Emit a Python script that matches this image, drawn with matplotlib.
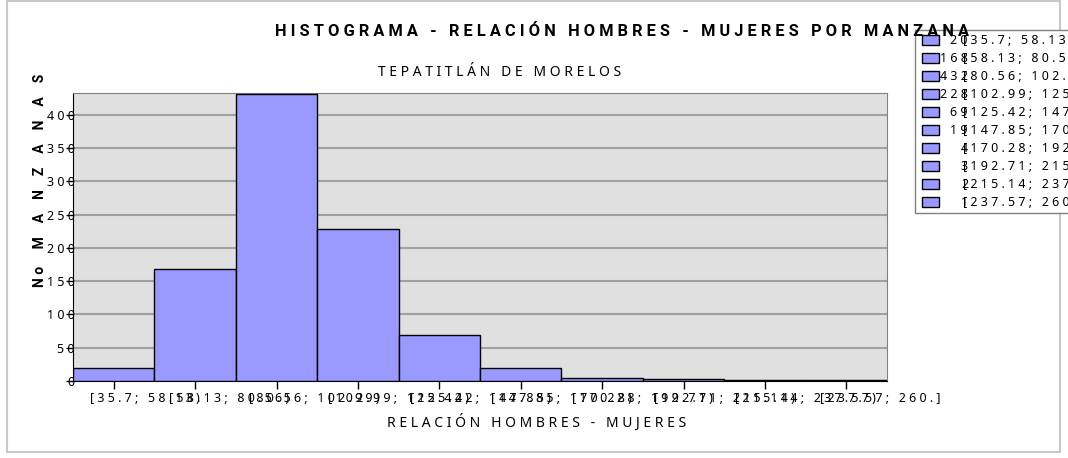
import matplotlib.pyplot as plt
from matplotlib.patches import Rectangle
from matplotlib.transforms import ScaledTranslation

intervals = ['[35.7; 58.13)', '[58.13; 80.56)', '[80.56; 102.99)', '[102.99; 125.42)',
             '[125.42; 147.85)', '[147.85; 170.28)', '[170.28; 192.71)', '[192.71; 215.14)',
             '[215.14; 237.57)', '[237.57; 260.]']
counts = [20, 168, 432, 228, 69, 19, 4, 3, 2, 1]
yticks = [0, 50, 100, 150, 200, 250, 300, 350, 400]

FONT = ['Liberation Sans Narrow', 'Arial Narrow', 'Noto Sans Condensed', 'Noto Sans', 'DejaVu Sans']
FONT_B = ['Roboto', 'Liberation Sans', 'DejaVu Sans']
ST = 'condensed'
BAR = '#9999ff'


def sp(s, gap=' '):
    # texto con espaciado entre letras como el original
    return gap.join(s)


fig = plt.figure(figsize=(10.68, 4.58), dpi=100)
fig.patch.set_facecolor('white')

# marco exterior
fig.patches.append(Rectangle((7 / 1068, 6 / 458), 1053 / 1068, 451 / 458, transform=fig.transFigure,
                             fill=False, edgecolor='#c8c8c8', linewidth=1.5))

ax = fig.add_axes([73 / 1068, 77 / 458, 814 / 1068, 288 / 458])
ax.set_facecolor('#e0e0e0')
x = list(range(len(counts)))
ax.bar(x, counts, width=1.0, color=BAR, edgecolor='black', linewidth=1, zorder=3)
ax.set_xlim(-0.5, len(counts) - 0.5)
ax.set_ylim(0, 433)
ax.set_yticks(yticks)
ax.set_yticklabels([sp(str(v)) for v in yticks], family=FONT, stretch=ST, fontsize=9)
ax.set_xticks(x)
ax.set_xticklabels([sp(s) for s in intervals], family=FONT, stretch=ST, fontsize=9)
ax.yaxis.grid(True, color='#a0a0a0', linewidth=1.5, zorder=0)
ax.set_axisbelow(True)
ax.tick_params(axis='y', length=5, width=1, pad=-6, color='black')
ax.tick_params(axis='x', length=6, width=1, pad=2, color='black')
for lab, s in zip(ax.get_xticklabels(), intervals):
    lab.set_horizontalalignment('left')
    lab.set_transform(lab.get_transform() + ScaledTranslation(-len(s) * 1.85 / 100, 0, fig.dpi_scale_trans))
for s in ['top', 'right']:
    ax.spines[s].set_color('#808080')
for s in ['left', 'bottom']:
    ax.spines[s].set_color('black')

fig.text(537 / 1068, 1 - 422 / 458, sp('RELACIÓN HOMBRES - MUJERES'), ha='center', va='center',
         family=FONT, stretch=ST, fontsize=10)
fig.text(40 / 1068, 1 - 180 / 458, 'N o     ' + sp('MANZANAS', '    '), rotation=90, ha='center', va='center',
         family=FONT_B, fontsize=10, fontweight='bold')

fig.text(622 / 1068, 1 - 31 / 458, sp('HISTOGRAMA - RELACIÓN HOMBRES - MUJERES POR MANZANA'),
         ha='center', va='center', family=FONT_B, fontsize=11.8, fontweight='bold')
fig.text(500 / 1068, 1 - 72 / 458, sp('TEPATITLÁN DE MORELOS'),
         ha='center', va='center', family=FONT, stretch=ST, fontsize=10)

# leyenda dibujada a mano
fig.patches.append(Rectangle((915 / 1068, 1 - 213 / 458), 160 / 1068, 183 / 458, transform=fig.transFigure,
                             facecolor='white', edgecolor='#808080', linewidth=1))
for i, (c, lab) in enumerate(zip(counts, intervals)):
    yc = 40 + 18 * i
    fig.patches.append(Rectangle((922 / 1068, 1 - (yc + 5) / 458), 17 / 1068, 10 / 458,
                                 transform=fig.transFigure, facecolor=BAR, edgecolor='black', linewidth=1))
    fig.text(968 / 1068, 1 - yc / 458, sp(str(c)), ha='right', va='center', family=FONT, stretch=ST, fontsize=9)
    fig.text(963 / 1068, 1 - yc / 458, sp(lab), ha='left', va='center', family=FONT, stretch=ST, fontsize=9)

fig.savefig('out.png', dpi=100)
